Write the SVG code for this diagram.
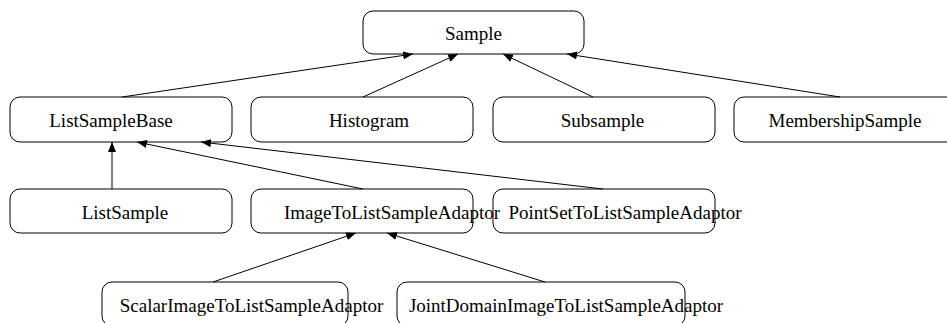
<svg xmlns="http://www.w3.org/2000/svg" width="947" height="323" viewBox="0 0 947 323">
<style>
.box{fill:none;stroke:#000;stroke-width:1}
.lbl{font-family:"Liberation Serif","Times New Roman",serif;font-size:19px;fill:#000;text-anchor:middle}
.edge{stroke:#000;stroke-width:1;fill:none;marker-end:url(#arr)}
</style>
<defs>
<marker id="arr" markerUnits="userSpaceOnUse" markerWidth="11" markerHeight="9" refX="10" refY="4" orient="auto">
<path d="M0,0 L10,4 L0,8 z" fill="#000"/>
</marker>
</defs>
<rect width="947" height="323" fill="#fff"/>
<g id="connectors">
<line class="edge" x1="122" y1="97" x2="413" y2="54"/>
<line class="edge" x1="363" y1="97" x2="458" y2="54"/>
<line class="edge" x1="593" y1="97" x2="503" y2="54"/>
<line class="edge" x1="840" y1="97" x2="567" y2="54"/>
<line class="edge" x1="112" y1="189" x2="112" y2="142"/>
<line class="edge" x1="363" y1="189" x2="137" y2="142"/>
<line class="edge" x1="603" y1="189" x2="201" y2="142"/>
<line class="edge" x1="213" y1="282" x2="356" y2="233"/>
<line class="edge" x1="545" y1="282" x2="387" y2="233"/>
</g>
<g id="Sample"><rect class="box" x="363" y="11" width="221" height="43" rx="10"/><text class="lbl" x="473.5" y="40">Sample</text></g>
<g id="ListSampleBase"><rect class="box" x="10" y="97" width="222" height="45" rx="10"/><text class="lbl" x="111" y="127">ListSampleBase</text></g>
<g id="Histogram"><rect class="box" x="251" y="97" width="222" height="45" rx="10"/><text class="lbl" x="369" y="127">Histogram</text></g>
<g id="Subsample"><rect class="box" x="493" y="97" width="222" height="45" rx="10"/><text class="lbl" x="602.5" y="127">Subsample</text></g>
<g id="MembershipSample"><rect class="box" x="734" y="97" width="222" height="45" rx="10"/><text class="lbl" x="845" y="127">MembershipSample</text></g>
<g id="ListSample"><rect class="box" x="10" y="189" width="222" height="44" rx="10"/><text class="lbl" x="125" y="219">ListSample</text></g>
<g id="ImageToListSampleAdaptor"><rect class="box" x="251" y="189" width="222" height="44" rx="10"/><text class="lbl" x="392" y="219">ImageToListSampleAdaptor</text></g>
<g id="PointSetToListSampleAdaptor"><rect class="box" x="493" y="189" width="222" height="44" rx="10"/><text class="lbl" x="625" y="219">PointSetToListSampleAdaptor</text></g>
<g id="ScalarImageToListSampleAdaptor"><rect class="box" x="102" y="282" width="246" height="44" rx="10"/><text class="lbl" x="251.5" y="312">ScalarImageToListSampleAdaptor</text></g>
<g id="JointDomainImageToListSampleAdaptor"><rect class="box" x="397" y="282" width="288" height="44" rx="10"/><text class="lbl" x="566" y="312">JointDomainImageToListSampleAdaptor</text></g>
</svg>
